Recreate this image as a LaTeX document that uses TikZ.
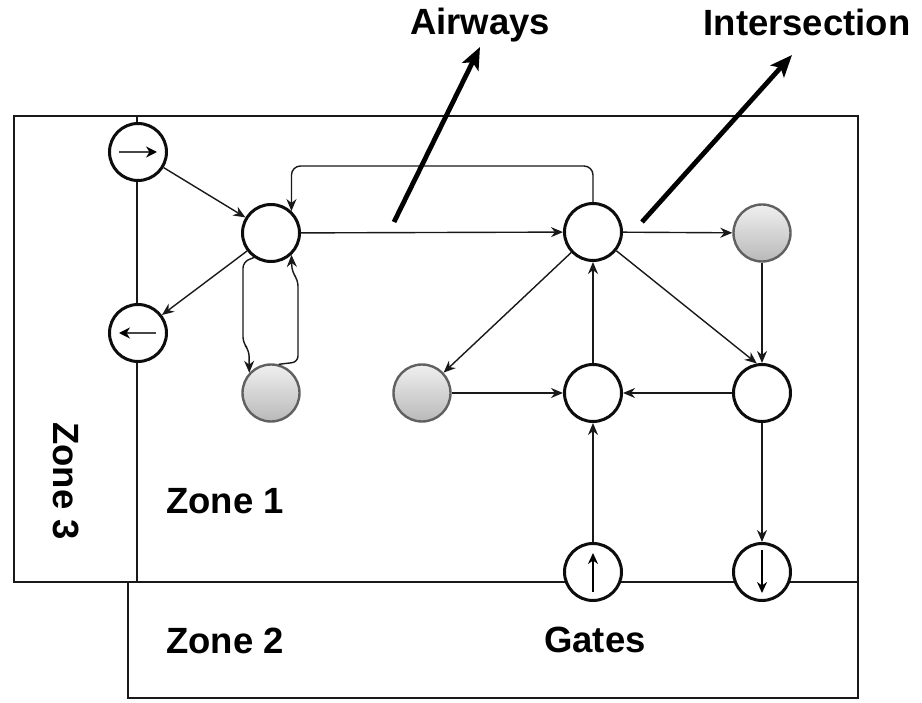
\documentclass[tikz,border=0pt]{standalone}
\usepackage{fontspec}
\setmainfont{Liberation Sans}
\usetikzlibrary{arrows.meta}
\begin{document}
\begin{tikzpicture}[x=1pt,y=-1pt,
  lbl/.style={font=\fontsize{36.5}{40}\selectfont\bfseries, inner sep=0pt},
  zone/.style={line width=2.8pt, draw=black!90},
  junc/.style={circle, draw=black!95, line width=3pt, minimum size=57pt, inner sep=0pt, fill=white},
  stopc/.style={circle, draw=gray!75!black, line width=2.4pt, minimum size=57pt, inner sep=0pt, top color=gray!12, bottom color=gray!55},
  link/.style={line width=1.4pt, draw=black!90, -{Stealth[length=12pt,width=10pt]}},
  bigarr/.style={line width=4.8pt, -{Stealth[length=22pt,width=18pt,inset=5pt]}},
  glyph/.style={line width=2.4pt},
]
\useasboundingbox (0,0) rectangle (922,703);
\fill[white] (0,0) rectangle (922,703);

% zones
\draw[zone] (14,116) rectangle (858,582);
\draw[zone] (128,582) rectangle (858,698);
\draw[zone] (137,116) -- (137,582);

% nodes
\node[junc] (in) at (138,152) {};
\node[junc] (out) at (138,333) {};
\node[junc] (A) at (271,233) {};
\node[stopc] (G1) at (271,393) {};
\node[junc] (B) at (593,232) {};
\node[stopc] (C) at (762,233) {};
\node[stopc] (E) at (422,393) {};
\node[junc] (F) at (593,393) {};
\node[junc] (D) at (762,393) {};
\node[junc] (gin) at (593,572) {};
\node[junc] (gout) at (762,572) {};

% arrows inside circles
\draw[glyph, draw=gray!55!black, -{Stealth[length=11pt,width=11pt,color=black]}] ([xshift=-19pt]in.center) -- ([xshift=19pt]in.center);
\draw[glyph, draw=gray!55!black, -{Stealth[length=11pt,width=11pt,color=black]}] ([xshift=18pt]out.center) -- ([xshift=-19pt]out.center);
\draw[glyph, line width=1.8pt, -{Stealth[length=11pt,width=10pt]}] ([yshift=-20pt]gin.center) -- ([yshift=19pt]gin.center);
\draw[glyph, line width=1.8pt, -{Stealth[length=11pt,width=10pt]}] ([yshift=22pt]gout.center) -- ([yshift=-21pt]gout.center);

% connectors
\draw[link] (in) -- (A);
\draw[link] (A) -- (out);
\draw[link] (A) -- (B);
\draw[link, rounded corners=9pt] (B.north) -- ++(0,-36) -| (A.47);
\draw[link, rounded corners=6pt] (A.235) -- (243,262) -- (243,343) -- (249,350) -- (G1.137);
\draw[link, rounded corners=6pt] (G1.75) -- (298,362) -- (298,280) -- (292,272) -- (A.313);
\draw[link] (B) -- (C);
\draw[link] (C) -- (D);
\draw[link] (B) -- (D.100);
\draw[link] (B) -- (E);
\draw[link] (E) -- (F);
\draw[link] (D) -- (F);
\draw[link] (F) -- (B);
\draw[link] (gin) -- (F);
\draw[link] (D) -- (gout);

% labels
\node[lbl, anchor=base] (airways) at (480,35) {Airways};
\node[lbl, anchor=base] (inter) at (807,36) {Intersection};
\node[lbl] (z1) at (225,501) {Zone 1};
\node[lbl] (z2) at (225,641) {Zone 2};
\node[lbl] (gates) at (595,640) {Gates};
\node[lbl, rotate=-90] (z3) at (66,481) {Zone 3};

% pointer arrows
\coordinate (pa) at (394,222);
\coordinate (pb) at (642,222);
\coordinate (ta) at (480,47);
\coordinate (tb) at (792,55);
\draw[bigarr] (pa) -- (ta);
\draw[bigarr] (pb) -- (tb);
\end{tikzpicture}
\end{document}
